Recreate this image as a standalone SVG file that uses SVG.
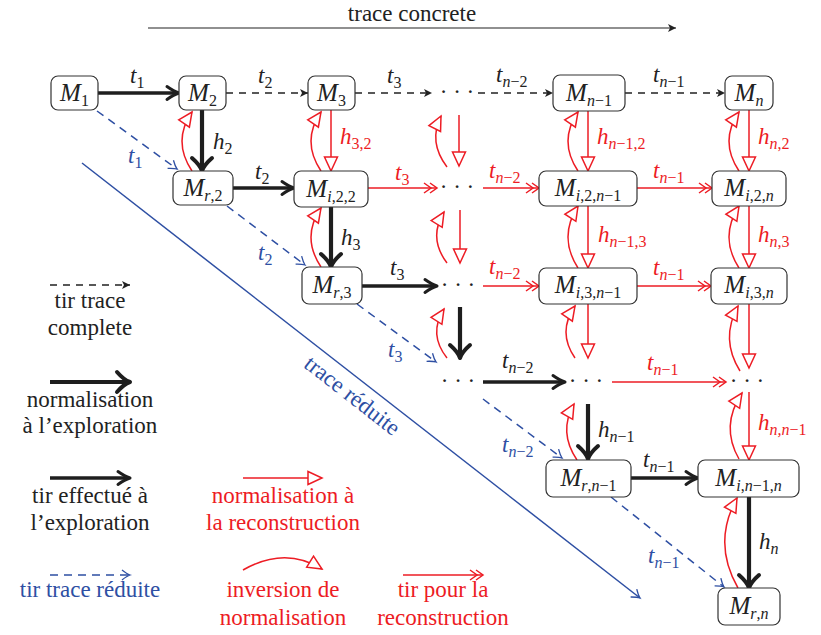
<svg xmlns="http://www.w3.org/2000/svg" width="821" height="635" viewBox="0 0 821 635">
<style>
.t{font-size:23px;fill:#222;}
.lab{font-size:23px;font-style:italic;}
.u{font-style:normal;}
.s{font-size:16px;}
.node rect{fill:#fff;stroke:#333;stroke-width:1.2;}
.nl{font-size:25px;font-style:italic;fill:#222;text-anchor:middle;}
.mid{text-anchor:middle;}
.k{fill:#222;}
.r{fill:#ED1C24;}
.b{fill:#2E4FA3;}
.tir{stroke:#1e1e1e;stroke-width:3.6;fill:none;marker-end:url(#mTir);}
.norm{stroke:#1e1e1e;stroke-width:4.2;fill:none;marker-end:url(#mNorm);}
.dash{stroke:#222;stroke-width:1.4;stroke-dasharray:7 6;fill:none;marker-end:url(#mDash);}
.rn{stroke:#ED1C24;stroke-width:1.5;fill:none;marker-end:url(#mTri);}
.rt{stroke:#ED1C24;stroke-width:1.5;fill:none;marker-end:url(#mDbl);}
.bd{stroke:#2E4FA3;stroke-width:1.5;stroke-dasharray:8 6;fill:none;marker-end:url(#mBlue);}
.bl{stroke:#2E4FA3;stroke-width:1.5;fill:none;marker-end:url(#mBlue);}
.thin{stroke:#222;stroke-width:1.2;fill:none;marker-end:url(#mDash);}
</style>
<defs>
<marker id="mTir" markerUnits="userSpaceOnUse" orient="auto" overflow="visible" markerWidth="1" markerHeight="1" refX="0" refY="0"><path d="M-9,-6.5 Q-2,-1.5 3,0 Q-2,1.5 -9,6.5" fill="none" stroke="#1e1e1e" stroke-width="3" stroke-linecap="round" stroke-linejoin="round"/></marker>
<marker id="mNorm" markerUnits="userSpaceOnUse" orient="auto" overflow="visible" markerWidth="1" markerHeight="1" refX="0" refY="0"><path d="M-10,-10 Q-3,-2 3,0 Q-3,2 -10,10" fill="none" stroke="#1e1e1e" stroke-width="4" stroke-linecap="round" stroke-linejoin="round"/></marker>
<marker id="mDash" markerUnits="userSpaceOnUse" orient="auto" overflow="visible" markerWidth="1" markerHeight="1" refX="0" refY="0"><path d="M-8,-4 L0,0 L-8,4 L-6,0 Z" fill="#222"/></marker>
<marker id="mTri" markerUnits="userSpaceOnUse" orient="auto" overflow="visible" markerWidth="1" markerHeight="1" refX="0" refY="0"><path d="M-14,-6.5 L0,0 L-14,6.5 Z" fill="#fff" stroke="#ED1C24" stroke-width="1.5" stroke-linejoin="miter"/></marker>
<marker id="mDbl" markerUnits="userSpaceOnUse" orient="auto" overflow="visible" markerWidth="1" markerHeight="1" refX="0" refY="0"><path d="M-7,-5 L0,0 L-7,5 M-13,-5 L-6,0 L-13,5" fill="none" stroke="#ED1C24" stroke-width="1.5"/></marker>
<marker id="mBlue" markerUnits="userSpaceOnUse" orient="auto" overflow="visible" markerWidth="1" markerHeight="1" refX="0" refY="0"><path d="M-8,-5 Q-3,-1 0,0 Q-3,1 -8,5" fill="none" stroke="#2E4FA3" stroke-width="1.3"/></marker>
</defs>

<rect width="821" height="635" fill="#fff"/>

<text font-family="Liberation Serif" class="t mid" x="412" y="21">trace concrete</text>
<line class="thin" x1="148" y1="28" x2="676" y2="28"/>

<g id="connectors">
<line class="bl" x1="82" y1="163" x2="640" y2="598"/>
<line class="dash" x1="226" y1="93" x2="308" y2="93"/>
<line class="dash" x1="355" y1="93" x2="432" y2="93"/>
<line class="dash" x1="478" y1="93" x2="553" y2="93"/>
<line class="dash" x1="625" y1="93" x2="725" y2="93"/>
<line class="tir" x1="98" y1="93" x2="176" y2="93"/>
<line class="tir" x1="233" y1="188" x2="291" y2="188"/>
<line class="tir" x1="362" y1="286" x2="434" y2="286"/>
<line class="tir" x1="483" y1="382" x2="562" y2="382"/>
<line class="tir" x1="631" y1="478" x2="695" y2="478"/>
<line class="norm" x1="202" y1="110" x2="202" y2="168"/>
<line class="norm" x1="331" y1="207" x2="331" y2="264"/>
<line class="norm" x1="460" y1="307" x2="460" y2="355"/>
<line class="norm" x1="588" y1="404" x2="588" y2="456"/>
<line class="norm" x1="749" y1="497" x2="749" y2="585"/>
<line class="rn" x1="331" y1="110" x2="331" y2="171"/>
<line class="rn" x1="459" y1="115" x2="459" y2="166"/>
<line class="rn" x1="460" y1="210" x2="460" y2="263"/>
<line class="rn" x1="588" y1="111" x2="588" y2="171"/>
<line class="rn" x1="588" y1="205" x2="588" y2="268"/>
<line class="rn" x1="588" y1="304" x2="588" y2="358"/>
<line class="rn" x1="749" y1="110" x2="749" y2="171"/>
<line class="rn" x1="749" y1="205" x2="749" y2="268"/>
<line class="rn" x1="749" y1="304" x2="749" y2="368"/>
<line class="rn" x1="749" y1="392" x2="749" y2="460"/>
<path class="rn" d="M192,171 Q172,141 192,112"/>
<path class="rn" d="M321,171 Q301,141 321,112"/>
<path class="rn" d="M321,267 Q301,237 321,208"/>
<path class="rn" d="M447,167 Q428,142 441,116"/>
<path class="rn" d="M447,263 Q428,238 444,212"/>
<path class="rn" d="M447,358 Q428,334 444,309"/>
<path class="rn" d="M578,171 Q558,141 578,112"/>
<path class="rn" d="M578,268 Q558,237 578,206"/>
<path class="rn" d="M575,358 Q557,332 575,306"/>
<path class="rn" d="M577,460 Q558,432 574,404"/>
<path class="rn" d="M739,171 Q719,141 739,112"/>
<path class="rn" d="M739,268 Q719,237 739,206"/>
<path class="rn" d="M740,371 Q720,339 738,306"/>
<path class="rn" d="M739,459 Q720,426 742,393"/>
<path class="rn" d="M738,588 Q712,543 737,498"/>
<line class="rt" x1="368" y1="188" x2="437" y2="188"/>
<line class="rt" x1="483" y1="188" x2="539" y2="188"/>
<line class="rt" x1="637" y1="188" x2="712" y2="188"/>
<line class="rt" x1="483" y1="286" x2="539" y2="286"/>
<line class="rt" x1="637" y1="286" x2="711" y2="286"/>
<line class="rt" x1="612" y1="382" x2="726" y2="382"/>
<line class="bd" x1="97" y1="111" x2="177" y2="169"/>
<line class="bd" x1="227" y1="206" x2="305" y2="265"/>
<line class="bd" x1="357" y1="304" x2="436" y2="362"/>
<line class="bd" x1="483" y1="399" x2="562" y2="458"/>
<line class="bd" x1="611" y1="497" x2="724" y2="587"/>
</g>

<g id="edge-labels">
<text font-family="Liberation Serif" class="lab k" x="130" y="83">t<tspan class="s u" dy="5">1</tspan></text>
<text font-family="Liberation Serif" class="lab k" x="258" y="83">t<tspan class="s u" dy="5">2</tspan></text>
<text font-family="Liberation Serif" class="lab k" x="387" y="83">t<tspan class="s u" dy="5">3</tspan></text>
<text font-family="Liberation Serif" class="lab k" x="496" y="82">t<tspan class="s" dy="5">n<tspan class="u">−2</tspan></tspan></text>
<text font-family="Liberation Serif" class="lab k" x="653" y="82">t<tspan class="s" dy="5">n<tspan class="u">−1</tspan></tspan></text>
<text font-family="Liberation Serif" class="lab k" x="213" y="149">h<tspan class="s u" dy="5">2</tspan></text>
<text font-family="Liberation Serif" class="lab r" x="340" y="144">h<tspan class="s u" dy="5">3,2</tspan></text>
<text font-family="Liberation Serif" class="lab r" x="597" y="144">h<tspan class="s" dy="5">n<tspan class="u">−1,2</tspan></tspan></text>
<text font-family="Liberation Serif" class="lab r" x="758" y="144">h<tspan class="s" dy="5">n<tspan class="u">,2</tspan></tspan></text>
<text font-family="Liberation Serif" class="lab b" x="128" y="163">t<tspan class="s u" dy="5">1</tspan></text>
<text font-family="Liberation Serif" class="lab k" x="255" y="179">t<tspan class="s u" dy="5">2</tspan></text>
<text font-family="Liberation Serif" class="lab r" x="395" y="180">t<tspan class="s u" dy="5">3</tspan></text>
<text font-family="Liberation Serif" class="lab r" x="489" y="178">t<tspan class="s" dy="5">n<tspan class="u">−2</tspan></tspan></text>
<text font-family="Liberation Serif" class="lab r" x="653" y="178">t<tspan class="s" dy="5">n<tspan class="u">−1</tspan></tspan></text>
<text font-family="Liberation Serif" class="lab k" x="341" y="245">h<tspan class="s u" dy="5">3</tspan></text>
<text font-family="Liberation Serif" class="lab r" x="598" y="242">h<tspan class="s" dy="5">n<tspan class="u">−1,3</tspan></tspan></text>
<text font-family="Liberation Serif" class="lab r" x="758" y="242">h<tspan class="s" dy="5">n<tspan class="u">,3</tspan></tspan></text>
<text font-family="Liberation Serif" class="lab b" x="258" y="260">t<tspan class="s u" dy="5">2</tspan></text>
<text font-family="Liberation Serif" class="lab k" x="390" y="275">t<tspan class="s u" dy="5">3</tspan></text>
<text font-family="Liberation Serif" class="lab r" x="489" y="274">t<tspan class="s" dy="5">n<tspan class="u">−2</tspan></tspan></text>
<text font-family="Liberation Serif" class="lab r" x="653" y="275">t<tspan class="s" dy="5">n<tspan class="u">−1</tspan></tspan></text>
<text font-family="Liberation Serif" class="lab b" x="388" y="357">t<tspan class="s u" dy="5">3</tspan></text>
<text font-family="Liberation Serif" class="lab k" x="502" y="368">t<tspan class="s" dy="5">n<tspan class="u">−2</tspan></tspan></text>
<text font-family="Liberation Serif" class="lab r" x="647" y="370">t<tspan class="s" dy="5">n<tspan class="u">−1</tspan></tspan></text>
<text font-family="Liberation Serif" class="lab k" x="598" y="437">h<tspan class="s" dy="5">n<tspan class="u">−1</tspan></tspan></text>
<text font-family="Liberation Serif" class="lab r" x="758" y="430">h<tspan class="s" dy="5">n,n<tspan class="u">−1</tspan></tspan></text>
<text font-family="Liberation Serif" class="lab b" x="502" y="452">t<tspan class="s" dy="5">n<tspan class="u">−2</tspan></tspan></text>
<text font-family="Liberation Serif" class="lab k" x="643" y="467">t<tspan class="s" dy="5">n<tspan class="u">−1</tspan></tspan></text>
<text font-family="Liberation Serif" class="lab k" x="759" y="549">h<tspan class="s" dy="5">n</tspan></text>
<text font-family="Liberation Serif" class="lab b" x="648" y="563">t<tspan class="s" dy="5">n<tspan class="u">−1</tspan></tspan></text>
<text font-family="Liberation Serif" class="t b mid" transform="translate(352,396) rotate(37.9)" y="7">trace réduite</text>
</g>

<g id="dots">
<text font-family="Liberation Serif" class="t mid" x="457" y="99">· · ·</text>
<text font-family="Liberation Serif" class="t mid" x="457" y="194">· · ·</text>
<text font-family="Liberation Serif" class="t mid" x="458" y="292">· · ·</text>
<text font-family="Liberation Serif" class="t mid" x="458" y="388">· · ·</text>
<text font-family="Liberation Serif" class="t mid" x="586" y="388">· · ·</text>
<text font-family="Liberation Serif" class="t mid" x="747" y="388">· · ·</text>
</g>

<g id="M1" class="node"><rect x="51" y="76" width="47" height="34" rx="7"/><text font-family="Liberation Serif" class="nl" x="74.5" y="101">M<tspan class="s u" dy="5">1</tspan></text></g>
<g id="M2" class="node"><rect x="179" y="76" width="47" height="34" rx="7"/><text font-family="Liberation Serif" class="nl" x="202.5" y="101">M<tspan class="s u" dy="5">2</tspan></text></g>
<g id="M3" class="node"><rect x="308" y="76" width="47" height="34" rx="7"/><text font-family="Liberation Serif" class="nl" x="331.5" y="101">M<tspan class="s u" dy="5">3</tspan></text></g>
<g id="Mn-1" class="node"><rect x="553" y="75" width="72" height="36" rx="7"/><text font-family="Liberation Serif" class="nl" x="589" y="101">M<tspan class="s" dy="5">n<tspan class="u">−1</tspan></tspan></text></g>
<g id="Mn" class="node"><rect x="725" y="76" width="48" height="34" rx="7"/><text font-family="Liberation Serif" class="nl" x="749" y="101">M<tspan class="s" dy="5">n</tspan></text></g>
<g id="Mr2" class="node"><rect x="173" y="171" width="60" height="34" rx="7"/><text font-family="Liberation Serif" class="nl" x="203" y="196">M<tspan class="s" dy="5">r<tspan class="u">,2</tspan></tspan></text></g>
<g id="Mi22" class="node"><rect x="294" y="171" width="74" height="36" rx="7"/><text font-family="Liberation Serif" class="nl" x="331" y="197">M<tspan class="s" dy="5">i<tspan class="u">,2,2</tspan></tspan></text></g>
<g id="Mi2n-1" class="node"><rect x="539" y="171" width="98" height="35" rx="7"/><text font-family="Liberation Serif" class="nl" x="588" y="196">M<tspan class="s" dy="5">i<tspan class="u">,2,</tspan>n<tspan class="u">−1</tspan></tspan></text></g>
<g id="Mi2n" class="node"><rect x="712" y="171" width="74" height="35" rx="7"/><text font-family="Liberation Serif" class="nl" x="749" y="196">M<tspan class="s" dy="5">i<tspan class="u">,2,</tspan>n</tspan></text></g>
<g id="Mr3" class="node"><rect x="302" y="267" width="60" height="37" rx="7"/><text font-family="Liberation Serif" class="nl" x="332" y="293">M<tspan class="s" dy="5">r<tspan class="u">,3</tspan></tspan></text></g>
<g id="Mi3n-1" class="node"><rect x="539" y="268" width="98" height="36" rx="7"/><text font-family="Liberation Serif" class="nl" x="588" y="293">M<tspan class="s" dy="5">i<tspan class="u">,3,</tspan>n<tspan class="u">−1</tspan></tspan></text></g>
<g id="Mi3n" class="node"><rect x="711" y="268" width="76" height="36" rx="7"/><text font-family="Liberation Serif" class="nl" x="749" y="293">M<tspan class="s" dy="5">i<tspan class="u">,3,</tspan>n</tspan></text></g>
<g id="Mrn-1" class="node"><rect x="546" y="460" width="85" height="37" rx="7"/><text font-family="Liberation Serif" class="nl" x="588.5" y="486">M<tspan class="s" dy="5">r<tspan class="u">,</tspan>n<tspan class="u">−1</tspan></tspan></text></g>
<g id="Min-1n" class="node"><rect x="698" y="460" width="101" height="37" rx="7"/><text font-family="Liberation Serif" class="nl" x="748.5" y="486">M<tspan class="s" dy="5">i<tspan class="u">,</tspan>n<tspan class="u">−1,</tspan>n</tspan></text></g>
<g id="Mrn" class="node"><rect x="718" y="588" width="62" height="37" rx="7"/><text font-family="Liberation Serif" class="nl" x="749" y="614">M<tspan class="s" dy="5">r<tspan class="u">,</tspan>n</tspan></text></g>

<g id="legend">
<line class="dash" x1="50" y1="285" x2="130" y2="285"/>
<text font-family="Liberation Serif" class="t mid" x="90" y="308">tir trace</text>
<text font-family="Liberation Serif" class="t mid" x="90" y="335">complete</text>
<line class="norm" x1="50" y1="382" x2="127" y2="382"/>
<text font-family="Liberation Serif" class="t mid" x="90" y="407">normalisation</text>
<text font-family="Liberation Serif" class="t mid" x="90" y="433">à l’exploration</text>
<line class="tir" x1="50" y1="478" x2="127" y2="478"/>
<text font-family="Liberation Serif" class="t mid" x="90" y="503">tir effectué à</text>
<text font-family="Liberation Serif" class="t mid" x="90" y="530">l’exploration</text>
<line class="bd" x1="50" y1="575" x2="130" y2="575"/>
<text font-family="Liberation Serif" class="t b mid" x="90" y="597">tir trace réduite</text>
<line class="rn" x1="243" y1="478" x2="322" y2="478"/>
<text font-family="Liberation Serif" class="t r mid" x="283" y="503">normalisation à</text>
<text font-family="Liberation Serif" class="t r mid" x="283" y="530">la reconstruction</text>
<path class="rn" d="M243,570 Q285,546 322,569"/>
<text font-family="Liberation Serif" class="t r mid" x="283" y="597">inversion de</text>
<text font-family="Liberation Serif" class="t r mid" x="283" y="625">normalisation</text>
<line class="rt" x1="403" y1="575" x2="483" y2="575"/>
<text font-family="Liberation Serif" class="t r mid" x="443" y="597">tir pour la</text>
<text font-family="Liberation Serif" class="t r mid" x="443" y="625">reconstruction</text>
</g>
</svg>
